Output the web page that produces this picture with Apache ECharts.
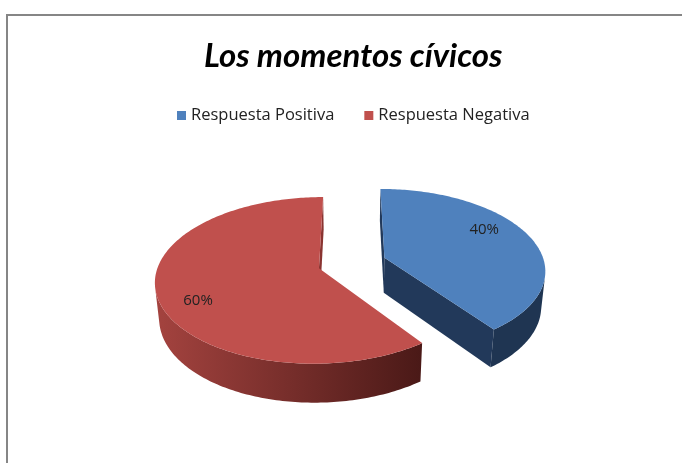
<!DOCTYPE html>
<html>
<head>
<meta charset="utf-8">
<script src="https://cdn.jsdelivr.net/npm/echarts@6/dist/echarts.min.js"></script>
<style>
  html, body { margin: 0; padding: 0; background: #fff; }
  #chart { width: 682px; height: 463px; }
</style>
</head>
<body>
<div id="chart"></div>
<script>
const categories = ['Respuesta Positiva', 'Respuesta Negativa'];
const values = [40, 60];
const labels = ['40%', '60%'];

const topColors = ['#4F81BD', '#C0504D'];
const sideColors = [['#1F3552', '#1F3552'], ['#A4433F', '#4A1917']];
const faceColors = ['#22395A', '#8A3431'];

// simple perspective camera for the 3D pie look
const CX = 352, CY = 263, F = 970, D = 6.06, ALPHA = Math.PI / 6;
const H = 0.26, EXPLODE = 0.215;
const cosA = Math.cos(ALPHA), sinA = Math.sin(ALPHA);
const CAM = [0, D * cosA]; // x, z of camera

function project(x, z, y) {
  const d = D - (z * cosA + y * sinA);
  const u = y * cosA - z * sinA;
  return [CX + F * x / d, CY - F * u / d];
}
const rad = (a) => a * Math.PI / 180;
const total = values.reduce((a, b) => a + b, 0);
const starts = [];
let acc = 0;
values.forEach((v) => { starts.push(acc / total * 360); acc += v; });

function renderSlice(i, api) {
  const v = api.value(0);
  const a0 = starts[i], a1 = a0 + v / total * 360, mid = (a0 + a1) / 2;
  const cx = EXPLODE * Math.sin(rad(mid)), cz = -EXPLODE * Math.cos(rad(mid));
  const rim = (a, y) => project(cx + Math.sin(rad(a)), cz - Math.cos(rad(a)), y);
  const center = (y) => project(cx, cz, y);
  const faces = [];

  // radial cut faces
  [[a0, -1], [a1, 1]].forEach(([a, s]) => {
    const nx = s * Math.cos(rad(a)), nz = s * Math.sin(rad(a));
    if ((CAM[0] - cx) * nx + (CAM[1] - cz) * nz > 0) {
      faces.push({
        depth: cz - Math.cos(rad(a)) / 2,
        el: {
          type: 'polygon',
          shape: { points: [center(0), rim(a, 0), rim(a, -H), center(-H)] },
          style: { fill: faceColors[i] }
        }
      });
    }
  });

  // curved outer side, only the part facing the camera
  let run = [];
  const runs = [];
  for (let a = a0; a <= a1 + 0.001; a += 1) {
    const aa = Math.min(a, a1);
    const px = cx + Math.sin(rad(aa)), pz = cz - Math.cos(rad(aa));
    const vis = (CAM[0] - px) * Math.sin(rad(aa)) + (CAM[1] - pz) * -Math.cos(rad(aa)) > 0;
    if (vis) run.push(aa);
    else if (run.length) { runs.push(run); run = []; }
  }
  if (run.length) runs.push(run);
  runs.forEach((r) => {
    const pts = r.map((a) => rim(a, 0)).concat(r.slice().reverse().map((a) => rim(a, -H)));
    const zAvg = r.reduce((s, a) => s + cz - Math.cos(rad(a)), 0) / r.length;
    faces.push({
      depth: zAvg,
      el: {
        type: 'polygon',
        shape: { points: pts },
        style: {
          fill: new echarts.graphic.LinearGradient(0, 0, 1, 0, [
            { offset: 0, color: sideColors[i][0] },
            { offset: 1, color: sideColors[i][1] }
          ])
        }
      }
    });
  });

  faces.sort((p, q) => p.depth - q.depth);
  const children = faces.map((f) => f.el);

  // top face
  const topPts = [center(0)];
  for (let a = a0; a <= a1 + 0.001; a += 1) topPts.push(rim(Math.min(a, a1), 0));
  children.push({
    type: 'polygon',
    shape: { points: topPts },
    style: { fill: api.visual('color') }
  });

  // data label on the top face
  const la = mid - 11, lr = 0.77;
  const lp = project(cx + lr * Math.sin(rad(la)), cz - lr * Math.cos(rad(la)), 0);
  children.push({
    type: 'text',
    x: lp[0] - (i === 1 ? 4 : 0), y: lp[1],
    style: {
      text: labels[i],
      fill: '#222',
      font: '15px "Open Sans"',
      align: 'center',
      verticalAlign: 'middle'
    }
  });

  return { type: 'group', children };
}

const chart = echarts.init(document.getElementById('chart'));
chart.setOption({
  animation: false,
  title: {
    text: 'Los momentos cívicos',
    left: 199,
    top: 35,
    textStyle: {
      fontFamily: 'Lato',
      fontSize: 33,
      fontStyle: 'italic',
      fontWeight: 'bold',
      color: '#000'
    }
  },
  legend: {
    data: categories,
    top: 102,
    left: 172,
    icon: 'rect',
    itemWidth: 9,
    itemHeight: 9,
    itemGap: 30,
    textStyle: { fontFamily: 'Open Sans', fontSize: 16.5, color: '#222' }
  },
  graphic: [{
    type: 'rect',
    shape: { x: 7, y: 15, width: 720, height: 520 },
    style: { fill: 'none', stroke: '#868686', lineWidth: 2 },
    silent: true
  }],
  series: categories.map((name, i) => ({
    type: 'custom',
    name,
    coordinateSystem: 'none',
    silent: true,
    itemStyle: { color: topColors[i] },
    data: [[values[i]]],
    renderItem: (params, api) => renderSlice(i, api)
  }))
});
</script>
</body>
</html>
